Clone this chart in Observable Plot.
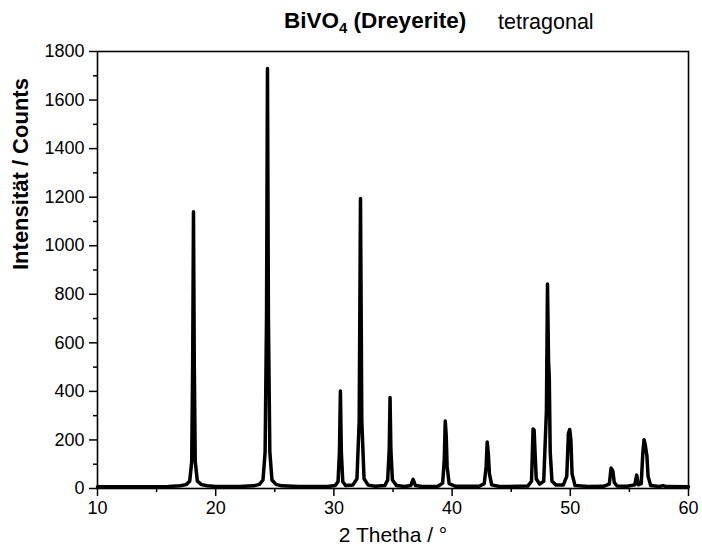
<!DOCTYPE html>
<html>
<head>
<meta charset="utf-8">
<script src="https://cdn.jsdelivr.net/npm/d3@7"></script>
<script src="https://cdn.jsdelivr.net/npm/@observablehq/plot@0.6"></script>
<style>
  html, body { margin: 0; padding: 0; background: white; }
  #wrap { position: relative; width: 702px; height: 559px; font-family: "Liberation Sans", Arial, sans-serif; }
  #wrap svg { position: absolute; left: 0; top: 0; }
  .t1 { position: absolute; left: 284px; top: 8px; font-size: 22.5px; font-weight: bold; letter-spacing: 0px; white-space: nowrap; }
  .t1 sub { font-size: 15px; vertical-align: -5px; line-height: 0; }
  .t2 { position: absolute; left: 498px; top: 10px; font-size: 21.5px; white-space: nowrap; }
</style>
</head>
<body>
<div id="wrap">
  <div class="t1">BiVO<sub>4</sub> (Dreyerite)</div>
  <div class="t2">tetragonal</div>
</div>
<script>
// 2θ positions (degrees) and intensities (counts)
const twoTheta = [
  10, 12, 14, 16, 17.0, 17.5, 17.8, 17.97, 18.05, 18.12, 18.19, 18.27, 18.45, 18.8, 19.3, 20,
  22, 23.2, 23.7, 24.0, 24.18, 24.3, 24.38, 24.46, 24.58, 24.76, 25.1, 25.6, 27,
  29.5, 30.1, 30.35, 30.47, 30.55, 30.63, 30.75, 31.0,
  31.6, 31.95, 32.14, 32.25, 32.36, 32.55, 32.9, 33.5,
  34.3, 34.55, 34.68, 34.75, 34.82, 34.95, 35.3, 36.0,
  36.5, 36.7, 36.9, 37.5,
  38.8, 39.2, 39.34, 39.42, 39.5, 39.58, 39.75, 40.3,
  42.3, 42.72, 42.88, 42.97, 43.07, 43.16, 43.35, 44,
  46.4, 46.72, 46.85, 46.94, 47.03, 47.12, 47.4,
  47.75, 47.98, 48.07, 48.16, 48.22, 48.3, 48.45, 48.8,
  49.4, 49.7, 49.84, 49.95, 50.05, 50.15, 50.4, 51.5,
  52.8, 53.3, 53.45, 53.6, 53.72, 53.95, 54.8,
  55.45, 55.62, 55.75, 56.0, 56.14, 56.24, 56.34, 56.48, 56.58, 56.8,
  57.5, 57.85, 58.1, 60
];
const counts = [
  7, 7, 7, 8, 11, 16, 30, 110, 500, 1140, 500, 110, 30, 16, 11, 8,
  8, 11, 17, 35, 150, 700, 1730, 700, 150, 35, 17, 11, 8,
  8, 12, 28, 150, 402, 150, 28, 12,
  14, 40, 280, 1195, 280, 40, 14, 9,
  12, 35, 160, 375, 160, 35, 12, 8,
  12, 38, 12, 8,
  9, 22, 120, 278, 220, 90, 20, 9,
  9, 20, 90, 192, 140, 60, 15, 8,
  10, 30, 245, 240, 135, 40, 18,
  30, 320, 842, 520, 462, 150, 30, 14,
  14, 50, 226, 243, 200, 60, 12, 8,
  9, 18, 84, 72, 25, 10, 9,
  15, 55, 15, 20, 150, 201, 180, 135, 50, 12,
  8, 12, 8, 7
];

// axis ticks
const yTicks = [0, 200, 400, 600, 800, 1000, 1200, 1400, 1600, 1800];
const yMinor = [100, 300, 500, 700, 900, 1100, 1300, 1500, 1700];
const xTicks = [10, 20, 30, 40, 50, 60];
const xMinor = [15, 25, 35, 45, 55];

const xLabel = "2 Thetha / °";
const yLabel = "Intensität / Counts";

const data = twoTheta.map((t, i) => ({t, c: counts[i]}));

const chart = Plot.plot({
  width: 702,
  height: 559,
  marginLeft: 97,
  marginRight: 14,
  marginTop: 51,
  marginBottom: 71,
  x: {domain: [10, 60]},
  y: {domain: [0, 1800]},
  style: {fontFamily: "'Liberation Sans', Arial, sans-serif", fontSize: "18px", color: "black", background: "transparent"},
  marks: [
    Plot.line(data, {x: "t", y: "c", stroke: "black", strokeWidth: 3.5, strokeLinejoin: "round", strokeLinecap: "round"}),
    Plot.frame({stroke: "black", strokeWidth: 1.6}),
    Plot.axisY(yTicks, {tickSize: 8, tickPadding: 5, label: null, fontSize: 18, strokeWidth: 1.5, tickFormat: d => String(d)}),
    Plot.axisY(yMinor, {tickSize: 4, tickFormat: () => "", label: null, strokeWidth: 1.5}),
    Plot.axisX(xTicks, {tickSize: 8, tickPadding: 5, label: null, fontSize: 18, strokeWidth: 1.5, tickFormat: d => String(d)}),
    Plot.axisX(xMinor, {tickSize: 4, tickFormat: () => "", label: null, strokeWidth: 1.5}),
    Plot.text([yLabel], {frameAnchor: "left", dx: -77, rotate: -90, fontWeight: "bold", fontSize: 22}),
    Plot.text([xLabel], {frameAnchor: "bottom", dy: 53, fontSize: 21})
  ]
});
document.getElementById("wrap").prepend(chart);
</script>
</body>
</html>
